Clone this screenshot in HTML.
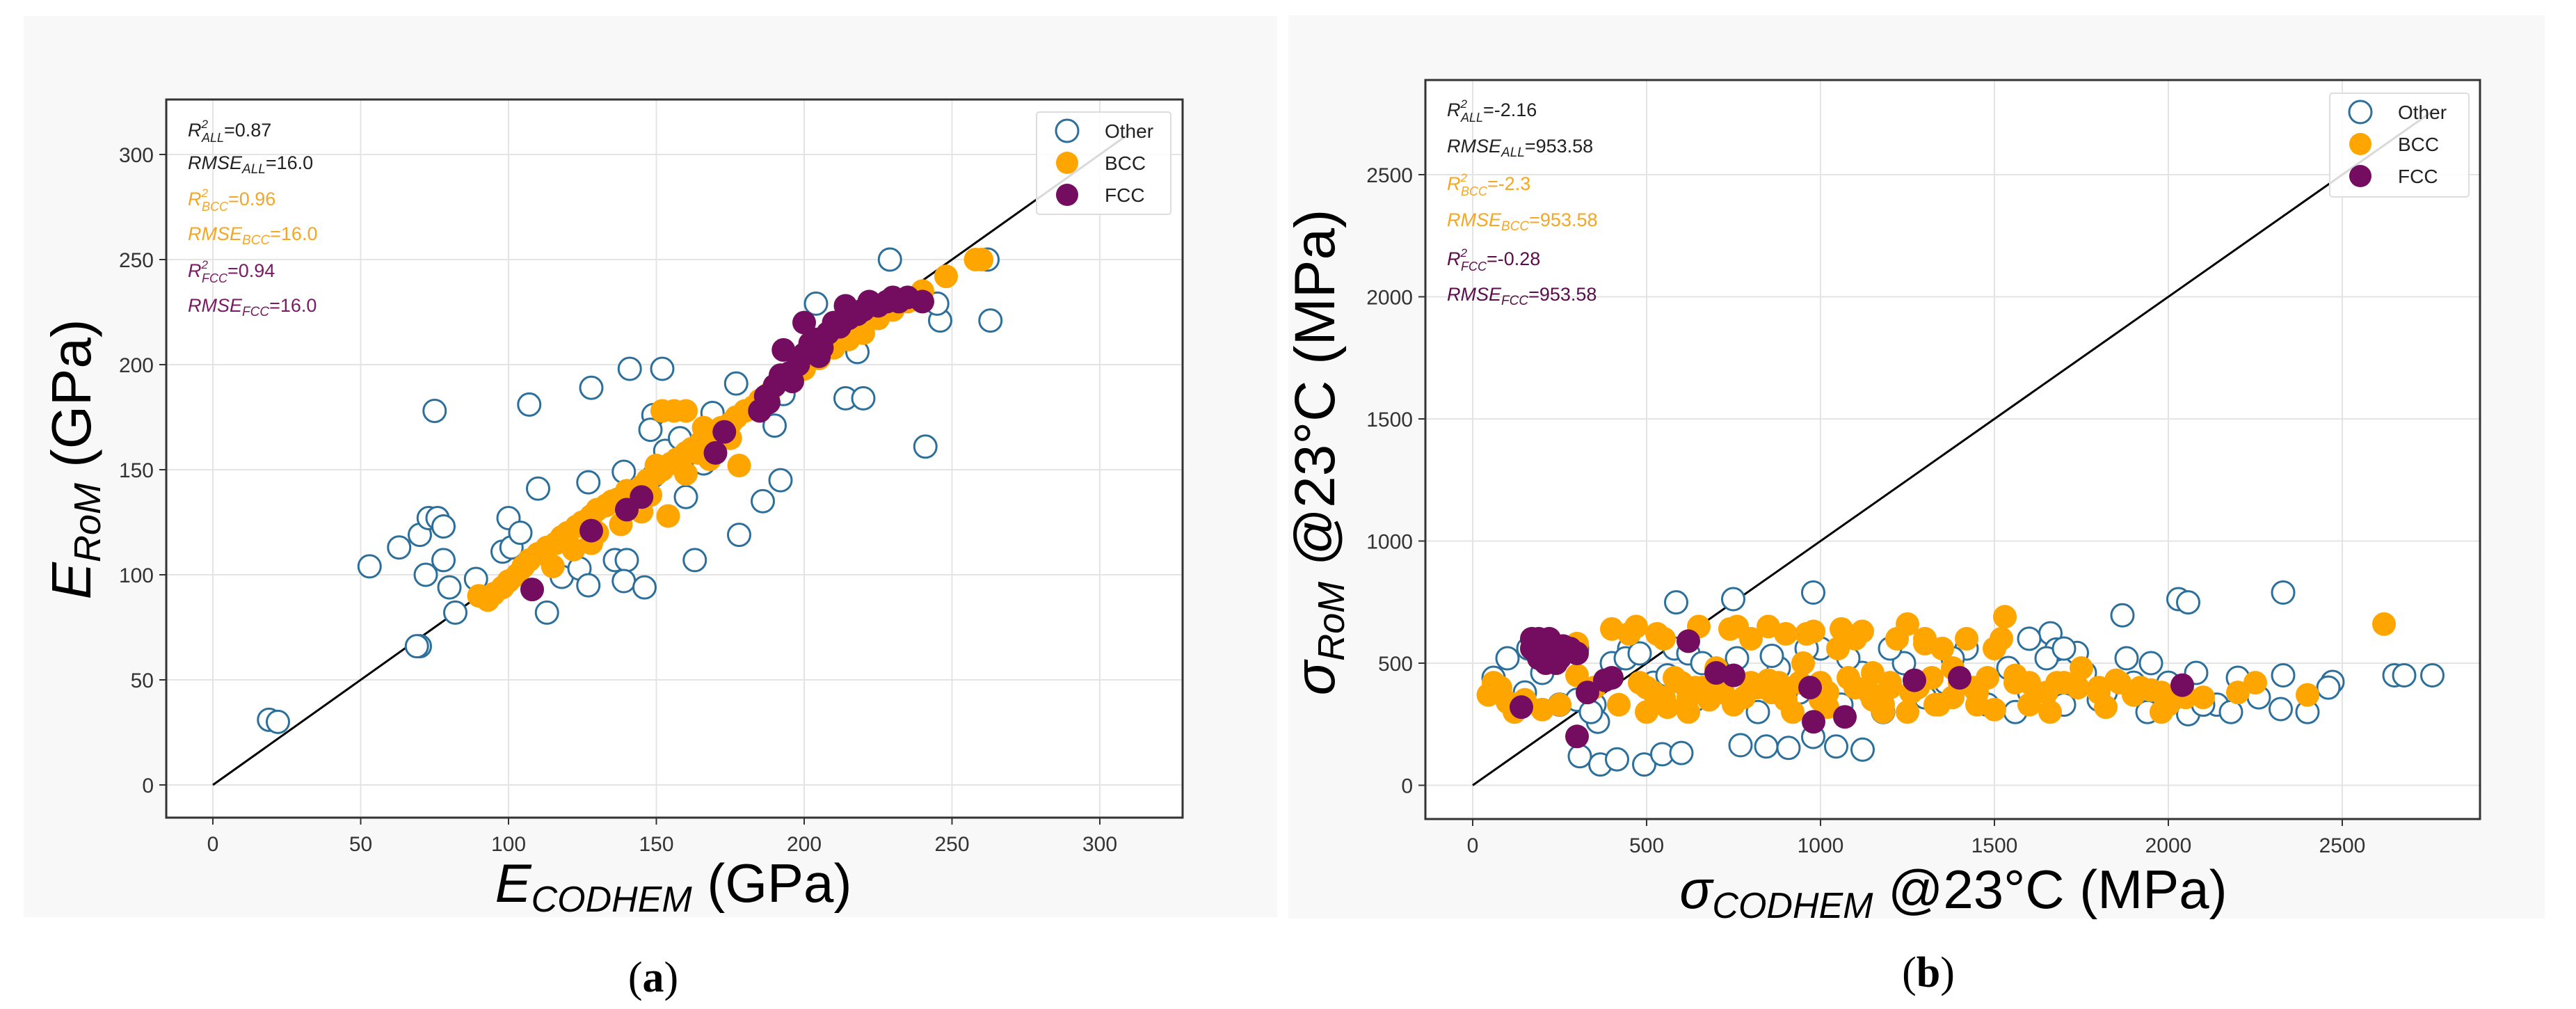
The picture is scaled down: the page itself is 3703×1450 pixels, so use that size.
<!DOCTYPE html>
<html><head><meta charset="utf-8"><style>
html,body{margin:0;padding:0;background:#fff;}
svg{display:block;font-family:"Liberation Sans",sans-serif;}
</style></head><body>
<svg id="fig" width="3703" height="1450" viewBox="0 0 3703 1450" xmlns="http://www.w3.org/2000/svg">
<rect x="34" y="23" width="1802" height="1295" fill="#f8f8f8"/>
<rect x="1852" y="22" width="1806" height="1298" fill="#f8f8f8"/>
<g id="chartA"></g>
<g id="chartB"></g>
<text x="939" y="1425" font-family="Liberation Serif,serif" font-size="62" text-anchor="middle">(<tspan font-weight="bold">a</tspan>)</text>
<text x="2772" y="1418" font-family="Liberation Serif,serif" font-size="62" text-anchor="middle">(<tspan font-weight="bold">b</tspan>)</text>
<text x="968" y="1296" font-family="Liberation Sans,sans-serif" font-size="78" text-anchor="middle"><tspan font-style="italic">E</tspan><tspan font-style="italic" font-size="52" dy="14">CODHEM</tspan><tspan dy="-14"> (GPa)</tspan></text>
<text transform="translate(130,660) rotate(-90)" font-family="Liberation Sans,sans-serif" font-size="80" text-anchor="middle"><tspan font-style="italic">E</tspan><tspan font-style="italic" font-size="54" dy="14">RoM</tspan><tspan dy="-14"> (GPa)</tspan></text>
<text x="2808" y="1305" font-family="Liberation Sans,sans-serif" font-size="78" text-anchor="middle"><tspan font-style="italic">σ</tspan><tspan font-style="italic" font-size="52" dy="14">CODHEM</tspan><tspan dy="-14"> @23°C (MPa)</tspan></text>
<text transform="translate(1918,650) rotate(-90)" font-family="Liberation Sans,sans-serif" font-size="82" text-anchor="middle"><tspan font-style="italic">σ</tspan><tspan font-style="italic" font-size="54" dy="14">RoM</tspan><tspan dy="-14"> @23°C (MPa)</tspan></text>
</svg>
<script>
// ---------- Chart A data ----------
const aTicks = [0, 50, 100, 150, 200, 250, 300];
const aOtherX = [19,22,53,63,70,70,72,73,75,76,78,78,80,82,89,69,107,100,98,101,104,110,113,118,124,127,128,136,140,139,146,141,152,149,148,139,160,163,178,186,192,177,190,169,214,220,241,229,262,263,246,245,204,218,205,193,153,158,166,127,149];
const aOtherY = [31,30,104,113,66,119,100,127,178,127,123,107,94,82,98,66,181,127,111,113,120,141,82,99,103,95,189,107,107,97,94,198,198,176,169,149,137,107,119,135,145,191,171,177,184,184,161,250,250,221,221,229,229,206,205,186,159,165,153,144,147];
const aBccX = [90,93,95,98,100,103,105,107,110,113,116,118,120,123,125,128,130,133,135,137,140,142,145,147,150,152,155,157,160,162,165,167,170,172,175,177,180,183,185,188,190,195,200,205,210,215,220,225,230,235,240,248,258,260,152,156,160,154,178,130,138,145,122,115,128,160,168,175,140,148,164,150,166];
const aBccY = [90,88,91,94,97,100,104,107,110,113,115,118,120,123,125,128,131,133,135,136,140,138,142,145,148,150,153,155,158,160,163,165,168,170,172,175,178,180,183,186,190,195,198,203,208,212,215,222,226,230,235,242,250,250,178,178,178,128,152,120,124,130,112,104,115,148,155,165,136,138,158,152,170];
const aFccX = [108,128,140,145,170,173,185,187,190,192,193,195,198,200,202,204,206,208,210,212,215,218,220,225,228,232,235,240,200,188,196,214,222,230,205];
const aFccY = [93,121,131,137,158,168,178,185,190,195,207,196,200,205,210,212,208,215,220,218,222,224,226,228,230,230,232,230,220,182,192,228,230,232,204];
// ---------- Chart B data ----------
const bTicks = [0, 500, 1000, 1500, 2000, 2500];
const bOtherX = [308,367,415,493,545,600,770,844,908,979,1045,1121,585,749,979,1868,2029,2057,2330,2650,2678,2759,2472,2323,2057,1661,1678,1737,60,100,150,200,250,300,350,400,450,520,580,640,700,760,820,880,940,1000,1060,1120,1180,1240,1300,1360,1420,1480,1540,1600,1650,1700,1760,1820,1880,1940,2000,2080,2140,2200,2260,2330,2400,2460,2100,1950,1800,1560,1380,900,560,360,300,2180,1640,1900,160,230,280,340,440,480,620,660,860,960,1080,1200,1600,1700];
const bOtherY = [119,85,106,85,127,132,164,159,153,198,159,146,749,762,789,696,762,749,789,450,450,450,423,312,291,622,556,542,440,520,380,460,330,560,330,500,560,420,560,350,400,520,300,480,380,560,330,460,300,500,360,420,560,330,480,380,520,330,460,380,520,300,420,460,330,440,360,450,300,400,330,500,350,300,520,380,450,260,350,300,350,420,560,560,560,300,520,540,540,500,530,560,520,560,600,560];
const bBccX = [45,60,80,100,120,150,200,250,300,350,400,450,470,500,530,550,600,640,650,700,720,760,800,850,880,900,950,980,1000,1050,1060,1100,1120,1150,1180,1220,1250,1280,1300,1330,1350,1380,1420,1450,1500,1530,1560,1600,1650,1700,1750,1800,1850,1900,1950,2000,2050,2200,2250,2400,2620,550,750,850,1150,420,300,680,920,1250,1450,1520,500,800,1000,1200,1400,1600,480,520,580,620,660,720,780,820,860,900,940,1020,1080,1140,1200,1260,1320,1380,1440,1480,1560,1620,1680,1740,1800,1860,1920,1980,2040,2100,700,880,1020,1180,1340,1500,1660,1820,1980,560,620,740,960,1100,1300];
const bBccY = [370,420,400,340,300,350,310,330,450,400,640,620,650,300,620,600,420,400,650,480,380,650,600,650,420,620,500,630,350,560,640,400,630,460,330,600,660,400,580,330,560,480,600,380,560,690,450,420,380,420,480,400,430,370,390,330,360,380,420,370,660,360,330,430,350,330,580,350,300,300,330,600,400,420,420,420,420,330,420,380,440,360,400,430,360,400,380,350,420,380,440,380,400,380,440,360,400,440,420,380,420,400,380,420,400,380,400,360,400,380,320,300,330,310,300,320,300,320,300,640,620,600,600,630,620];
const bFccX = [140,170,190,200,220,230,240,260,280,300,300,330,380,400,620,700,750,970,980,1070,1270,1400,2040,170,210,250,190,230];
const bFccY = [320,560,520,580,600,540,500,570,560,540,200,380,430,440,590,460,450,400,260,280,430,440,410,600,500,520,600,570];

const NS = 'http://www.w3.org/2000/svg';
function mk(tag, attrs, parent) {
  const el = document.createElementNS(NS, tag);
  for (const k in attrs) el.setAttribute(k, attrs[k]);
  parent.appendChild(el);
  return el;
}

function drawChart(g, cfg) {
  const sx = v => cfg.x0 + v * cfg.kx;
  const sy = v => cfg.y0 - v * cfg.ky;
  const f = cfg.frame;
  const bg = mk('rect', {x: f[0], y: f[1], width: f[2]-f[0], height: f[3]-f[1], fill: '#fff'}, g);
  
  
  cfg.ticks.forEach(t => {
    const gx = mk('line', {x1: sx(t), x2: sx(t), y1: f[1], y2: f[3], stroke: '#e4e4e4', 'stroke-width': 2}, g);
    
    
    const gy = mk('line', {x1: f[0], x2: f[2], y1: sy(t), y2: sy(t), stroke: '#e4e4e4', 'stroke-width': 2}, g);
    
    
    const tx = mk('line', {x1: sx(t), x2: sx(t), y1: f[3], y2: f[3]+10, stroke: '#333', 'stroke-width': 2}, g);
    
    
    const ty = mk('line', {x1: f[0]-10, x2: f[0], y1: sy(t), y2: sy(t), stroke: '#333', 'stroke-width': 2}, g);
    
    
    const lx = mk('text', {x: sx(t), y: f[3]+48, 'font-size': 30, fill: '#333', 'text-anchor': 'middle'}, g);
    lx.textContent = t;
    
    
    const ly = mk('text', {x: f[0]-18, y: sy(t)+11, 'font-size': 30, fill: '#333', 'text-anchor': 'end'}, g);
    ly.textContent = t;
    
    
  });
  const d = mk('line', {x1: sx(0), y1: sy(0), x2: sx(cfg.diag), y2: sy(cfg.diag), stroke: '#000', 'stroke-width': 3}, g);
  
  
  cfg.otherX.forEach((v, i) => {
    const c = mk('circle', {cx: sx(v), cy: sy(cfg.otherY[i]), r: 16, fill: '#fff', stroke: '#2b6f9a', 'stroke-width': 3}, g);
    
    
  });
  cfg.bccX.forEach((v, i) => {
    const c = mk('circle', {cx: sx(v), cy: sy(cfg.bccY[i]), r: 17, fill: '#ffa500'}, g);
    
    
  });
  cfg.fccX.forEach((v, i) => {
    const c = mk('circle', {cx: sx(v), cy: sy(cfg.fccY[i]), r: 17, fill: '#740d5f'}, g);
    
    
  });
  const fr = mk('rect', {x: f[0], y: f[1], width: f[2]-f[0], height: f[3]-f[1], fill: 'none', stroke: '#333', 'stroke-width': 3}, g);
  
  
  const L = cfg.legend;
  const lb = mk('rect', {x: L[0], y: L[1], width: L[2], height: L[3], fill: 'rgba(255,255,255,0.85)', stroke: '#ddd', 'stroke-width': 2, rx: 4}, g);
  
  
  const names = ['Other', 'BCC', 'FCC'];
  names.forEach((n, i) => {
    const cy = L[1] + 27 + i * 46;
    const m = mk('circle', {cx: L[0]+44, cy: cy, r: 16,
      fill: i === 0 ? '#fff' : (i === 1 ? '#ffa500' : '#740d5f'),
      stroke: i === 0 ? '#2b6f9a' : 'none', 'stroke-width': 3}, g);
    
    
    const t = mk('text', {x: L[0]+98, y: cy+10, 'font-size': 28, fill: '#222'}, g);
    t.textContent = n;
    
    
  });
  cfg.stats.forEach((s, i) => {
    const t = mk('text', {x: cfg.statX, y: cfg.statY[i], 'font-size': 27, fill: s[3]}, g);
    
    
    const a = mk('tspan', {'font-style': 'italic'}, t); a.textContent = s[0];
    if (s[4]) { const sp = mk('tspan', {'font-size': 17, dy: -12, 'font-style': 'italic'}, t); sp.textContent = '2';
      const sb = mk('tspan', {'font-size': 18, dy: 20, dx: -9, 'font-style': 'italic'}, t); sb.textContent = s[1];
      const r = mk('tspan', {dy: -8}, t); r.textContent = s[2]; }
    else { const sb = mk('tspan', {'font-size': 19, dy: 6, 'font-style': 'italic'}, t); sb.textContent = s[1];
      const r = mk('tspan', {dy: -6}, t); r.textContent = s[2]; }
  });
}

drawChart(document.getElementById('chartA'), {
  x0: 306, kx: 4.25, y0: 1128, ky: 3.02, frame: [239, 143, 1700, 1175], diag: 310,
  ticks: aTicks, otherX: aOtherX, otherY: aOtherY, bccX: aBccX, bccY: aBccY, fccX: aFccX, fccY: aFccY,
  legend: [1490, 161, 193, 147], statX: 270, statY: [196, 243, 295, 345, 398, 448],
  stats: [['R','ALL','=0.87','#222',1],['RMSE','ALL','=16.0','#222',0],['R','BCC','=0.96','#f5a623',1],['RMSE','BCC','=16.0','#f5a623',0],['R','FCC','=0.94','#7a1a63',1],['RMSE','FCC','=16.0','#7a1a63',0]]
});
drawChart(document.getElementById('chartB'), {
  x0: 2117, kx: 0.5, y0: 1128.5, ky: 0.351, frame: [2049, 115, 3565, 1177], diag: 2760,
  ticks: bTicks, otherX: bOtherX, otherY: bOtherY, bccX: bBccX, bccY: bBccY, fccX: bFccX, fccY: bFccY,
  legend: [3349, 134, 200, 149], statX: 2080, statY: [167, 219, 273, 325, 381, 432],
  stats: [['R','ALL','=-2.16','#222',1],['RMSE','ALL','=953.58','#222',0],['R','BCC','=-2.3','#f5a623',1],['RMSE','BCC','=953.58','#f5a623',0],['R','FCC','=-0.28','#5a0d4a',1],['RMSE','FCC','=953.58','#5a0d4a',0]]
});
</script>
</body></html>
